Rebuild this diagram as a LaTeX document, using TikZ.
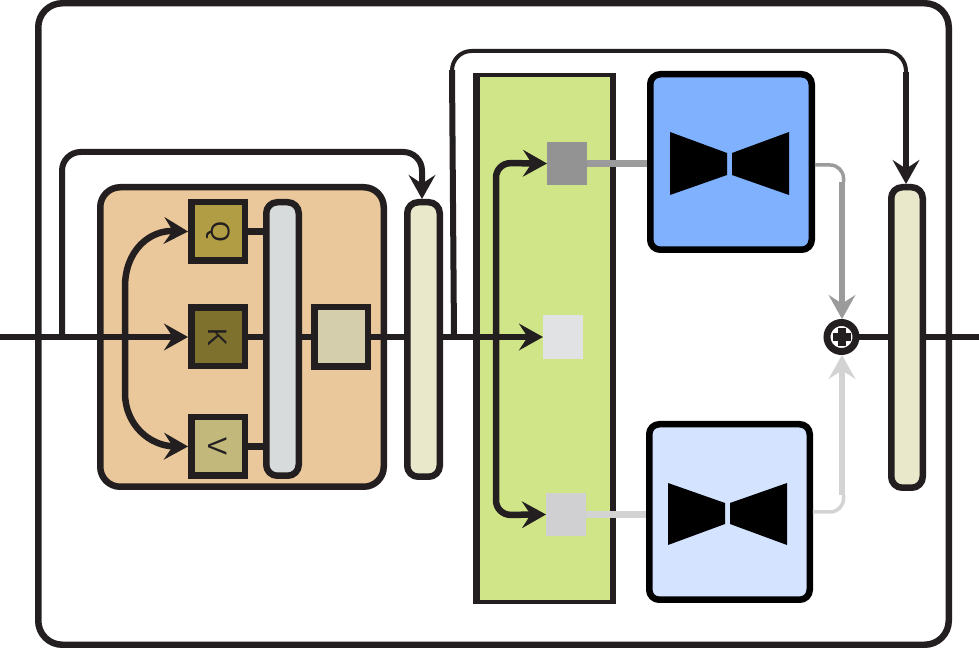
\documentclass[tikz,border=0pt]{standalone}
\usepackage{fontspec}
\setmainfont{Liberation Sans}
\usetikzlibrary{arrows.meta}
\definecolor{ink}{HTML}{231F20}
\definecolor{gA}{HTML}{9B9B9B}
\definecolor{gB}{HTML}{D3D3D3}
\tikzset{
  x=0.75pt,y=-0.75pt,
  px/.style={line width=#1*0.75pt},
  boxn/.style={draw=ink,px=6.5,inner sep=0pt,outer sep=2.4pt,rounded corners=#1*0.75pt},
  boxn/.default=0,
  wire/.style={draw=ink,px=6.5},
  head/.style={-{Stealth[length=18pt,width=20pt,inset=6.5pt]}},
  letter/.style={boxn,minimum width=53.5*0.75pt,minimum height=58.5*0.75pt,font=\fontsize{20}{20}\selectfont,text=ink},
  dot/.style={inner sep=0pt,outer sep=0pt},
}
% name, outer x0,y0,x1,y1, options: stroked box given by its outer edge
\newcommand{\pxbox}[6]{%
  \node[#6,minimum width=#4*0.75pt-#2*0.75pt-4.875pt,minimum height=#5*0.75pt-#3*0.75pt-4.875pt] (#1) at ({(#2+#4)/2},{(#3+#5)/2}) {};}
\newcommand{\pxdot}[6]{%
  \node[dot,#6,minimum width=#4*0.75pt-#2*0.75pt,minimum height=#5*0.75pt-#3*0.75pt] (#1) at ({(#2+#4)/2},{(#3+#5)/2}) {};}
\begin{document}
\begin{tikzpicture}
\useasboundingbox (0,0) rectangle (979,648);
\fill[white] (0,0) rectangle (979,648);
\pxbox{frame}{35}{0}{952}{648}{boxn=24}
\pxbox{orange}{97}{184}{387}{490}{boxn=20,fill={rgb,255:red,235;green,200;blue,155}}
\begin{scope}
\clip (473,73.5) rectangle (616,604);
\pxbox{green}{473}{71}{616}{607}{boxn,fill={rgb,255:red,208;green,229;blue,135}}
\end{scope}
\coordinate (in) at (0,337);
\coordinate (out) at (979,337);
\coordinate (s1) at (62,337);
\coordinate (s2) at (454,337);
\coordinate (b1) at (125,337);
\coordinate (b2) at (496,337);
% boxes
\node[letter,fill={rgb,255:red,177;green,157;blue,67}] (Q) at (218,231.5) {\rotatebox{-90}{Q}};
\node[letter,fill={rgb,255:red,125;green,113;blue,45}] (K) at (218,337) {\rotatebox{-90}{K}};
\node[letter,fill={rgb,255:red,194;green,184;blue,124}] (V) at (218,446.5) {\rotatebox{-90}{V}};
\pxbox{att}{263}{199}{302}{479}{boxn=11,fill={rgb,255:red,215;green,219;blue,220}}
\pxbox{lin}{311}{304}{371}{370}{boxn,fill={rgb,255:red,213;green,206;blue,172}}
\pxbox{nA}{404}{199}{443}{480}{boxn=11,fill={rgb,255:red,233;green,232;blue,203}}
\pxbox{nB}{888}{184}{926}{491}{boxn=11,fill={rgb,255:red,233;green,232;blue,203}}
\pxdot{pA}{547}{142}{587}{185}{fill={rgb,255:red,147;green,147;blue,147}}
\pxdot{pB}{543}{315}{583}{359}{fill={rgb,255:red,225;green,226;blue,228}}
\pxdot{pC}{546}{493}{586}{536}{fill={rgb,255:red,208;green,207;blue,209}}
\pxbox{uA}{647}{71}{815}{253}{boxn=10,draw=black,fill={rgb,255:red,128;green,177;blue,255}}
\pxbox{uB}{646}{421}{813}{603}{boxn=10,draw=black,fill={rgb,255:red,212;green,227;blue,255}}
\fill (670,132) -- (727,153) -- (727,175) -- (670,195) -- cycle;
\fill (789,132) -- (732,153) -- (732,175) -- (789,195) -- cycle;
\fill (668,483) -- (725,503) -- (725,524) -- (668,545) -- cycle;
\fill (787,483) -- (730,503) -- (730,524) -- (787,545) -- cycle;
\node[circle,draw=ink,px=7,fill=white,minimum size=29*0.75pt,inner sep=0pt,outer sep=2.6pt] (add) at (841.5,337) {};
\fill[ink] (832.5,333) rectangle (850.5,341);
\fill[ink] (837.5,328) rectangle (845.5,346);
% wires
\draw[wire,head] (in) -- (K.west);
\draw[wire] (K.east) -- (K.east-|att.west);
\draw[wire] (Q.east) -- (Q.east-|att.west);
\draw[wire] (V.east) -- (V.east-|att.west);
\draw[wire] (att.east|-lin.west) -- (lin.west);
\draw[wire] (lin.east) -- (lin.east-|nA.west);
\draw[wire,head] (nA.east|-in) -- (pB.west);
\draw[wire] (add.east) -- (add.east-|nB.west);
\draw[wire] (add.east-|nB.east) -- (out);
\draw[wire,head] (b1) -- (125,287) .. controls (125,250) and (150,230) .. (Q.west);
\draw[wire,head] (b1) -- (125,393) .. controls (125,425) and (150,446) .. (V.west);
\draw[wire,head,rounded corners=11pt] (b2) -- (496,163) -- (pA.west);
\draw[wire,head,rounded corners=11pt] (b2) -- (496,515) -- (pC.west);
\coordinate (tipA) at (422,199);
\draw[wire,px=6,head,rounded corners=14pt] (s1) -- (62,152) -- (422,152) -- (tipA);
\coordinate (s2a) at (452,70);
\coordinate (s2b) at (906,72);
\draw[draw=ink,px=4,rounded corners=15pt] (s2a) -- (451.5,51) -- (906,51) -- (s2b);
\draw[draw=ink,px=6] (s2) -- (s2a);
\draw[wire,head] (s2b) -- (s2b|-nB.north);
\draw[gA,px=7] (pA.east) -- (uA.west|-pA.east);
\draw[gB,px=7] (pC.east) -- (uB.west|-pC.east);
\coordinate (gAa) at (842,182);
\coordinate (gBa) at (842,495);
\draw[gA,px=3.5,rounded corners=10pt] (uA.east|-0,165) -- (843.5,165) -- (843.5,182);
\draw[gB,px=3.5,rounded corners=10pt] (uB.east|-0,512) -- (843.5,512) -- (843.5,495);
\draw[gA,px=6.5,head] (gAa) -- (gAa|-add.north);
\draw[gB,px=6.5,head] (gBa) -- (gBa|-add.south);
\end{tikzpicture}
\end{document}
